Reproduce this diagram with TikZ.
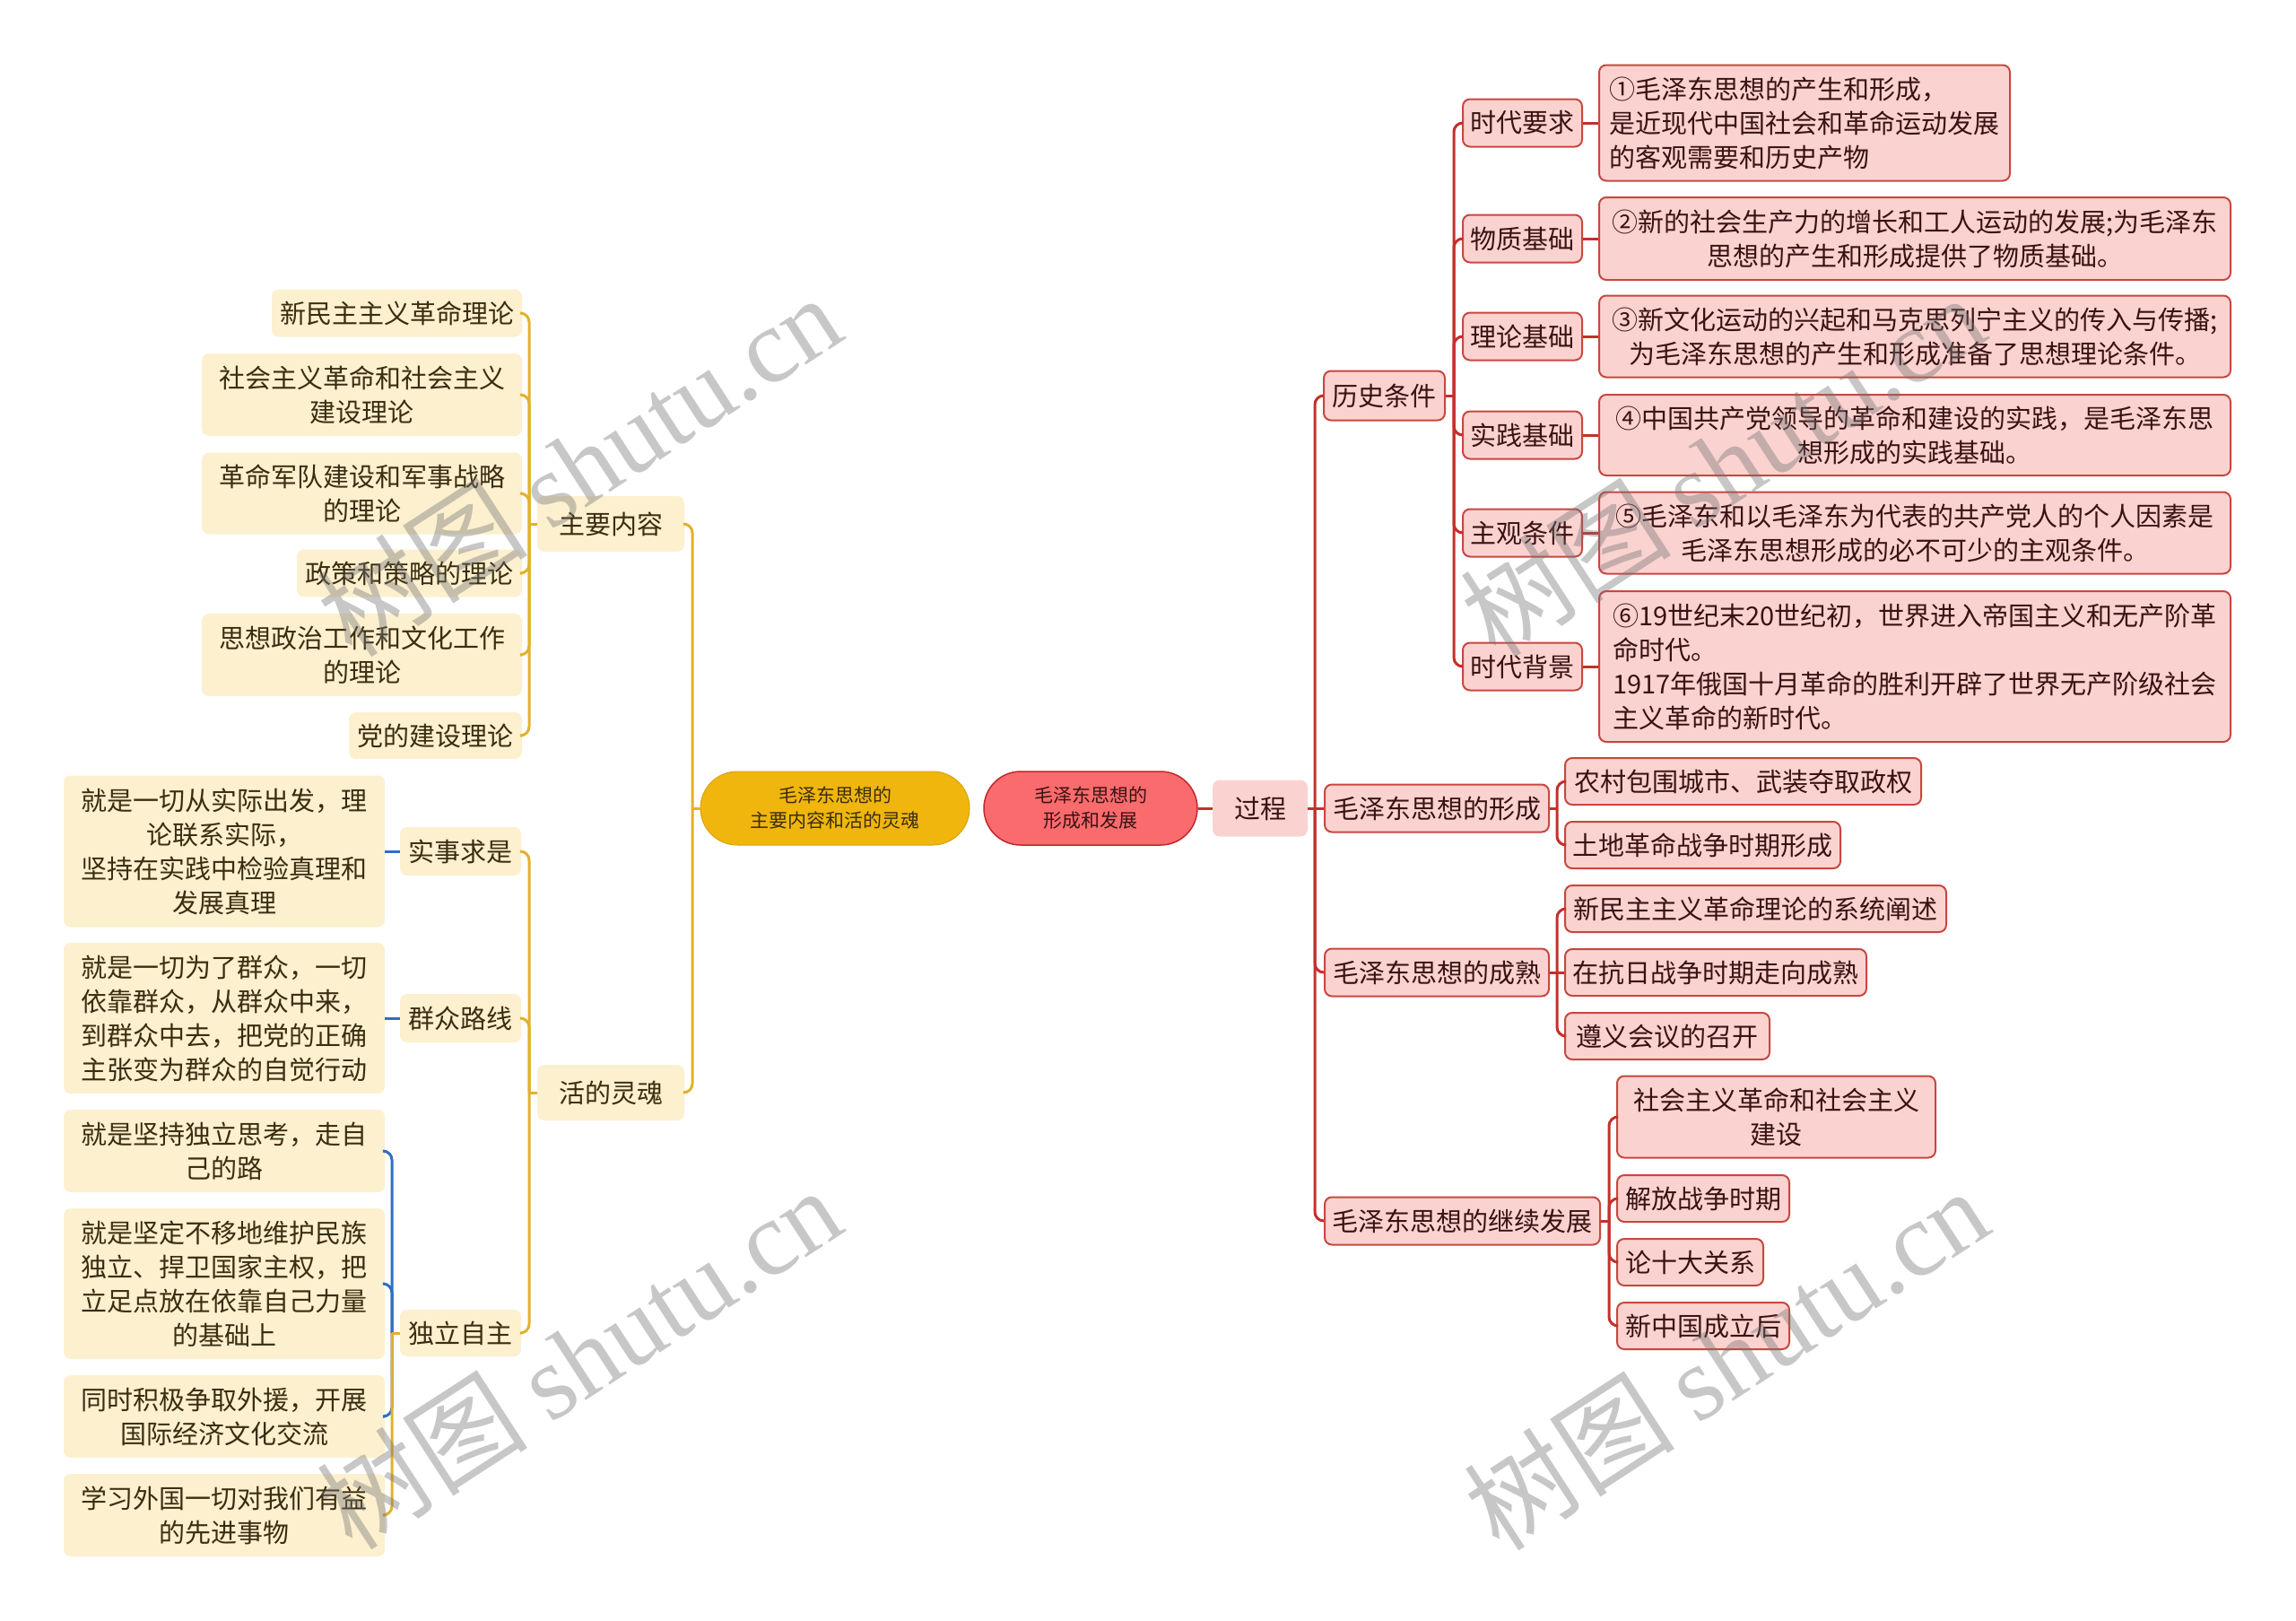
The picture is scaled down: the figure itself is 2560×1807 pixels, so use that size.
\documentclass[tikz,border=0pt]{standalone}
\usepackage{fontspec}
\setmainfont{Noto Sans CJK SC}
\newfontfamily\wmlatin{Liberation Serif}
\usetikzlibrary{calc}
\definecolor{rf}{HTML}{FAD3D1}
\definecolor{rb}{HTML}{C8473F}
\definecolor{rt}{HTML}{3A1212}
\definecolor{lr}{HTML}{C4302B}
\definecolor{rootr}{HTML}{F96B6D}
\definecolor{rootrb}{HTML}{C0282C}
\definecolor{yf}{HTML}{FCF0CF}
\definecolor{yt}{HTML}{3B2D0F}
\definecolor{ly}{HTML}{E2B12C}
\definecolor{rooty}{HTML}{F0B60E}
\definecolor{lb}{HTML}{2E6FC2}
\newcommand\fsz{\fontsize{29}{38}\selectfont}
\newcommand\fsroot{\fontsize{21}{28}\selectfont}
\newcommand\fswm{\fontsize{118}{130}\selectfont}
\begin{document}
\begin{tikzpicture}[x=1pt,y=-1pt,
  rline/.style={draw=lr, line width=3pt},
  yline/.style={draw=ly, line width=3pt},
  bline/.style={draw=lb, line width=3pt},
  rc/.style={rounded corners=10pt},
  rbox/.style={draw=rb, fill=rf, line width=2pt, rounded corners=8pt, text=rt, font=\fsz, inner xsep=4pt, inner ysep=2pt, align=center},
  ybox/.style={fill=yf, rounded corners=8pt, text=yt, font=\fsz, inner xsep=4pt, inner ysep=2pt, align=center},
  sz/.style 2 args={minimum width=#1, minimum height=#2},
  wm/.style={rotate=33, text=black!55, text opacity=0.4, font=\fswm}
]
\useasboundingbox (0,0) rectangle (2560,1807);
\fill[white] (0,0) rectangle (2560,1807);

% ---------- right map (red) ----------
\node[draw=rootrb, fill=rootr, line width=1.5pt, rounded corners=41pt, text=rt, font=\fsroot, align=center, sz={238}{82}] (rroot) at (1216,901) {毛泽东思想的\\形成和发展};
\node[fill=rf, rounded corners=8pt, text=rt, font=\fsz, sz={106}{63}] (guocheng) at (1405,901) {过程};

\node[rbox, sz={135}{55}] (lishi) at (1543.5,441) {历史条件};
\node[rbox, sz={133}{53}] (shidai) at (1697.5,137) {时代要求};
\node[rbox, sz={133}{53}] (wuzhi) at (1697.5,266) {物质基础};
\node[rbox, sz={133}{53}] (lilun) at (1697.5,375) {理论基础};
\node[rbox, sz={133}{53}] (shijian) at (1697.5,485) {实践基础};
\node[rbox, sz={133}{53}] (zhuguan) at (1697.5,594) {主观条件};
\node[rbox, sz={133}{53}] (beijing) at (1697.5,743) {时代背景};

\node[rbox, align=left, sz={458}{129}] (ra) at (2012,137) {①毛泽东思想的产生和形成，\\是近现代中国社会和革命运动发展\\的客观需要和历史产物};
\node[rbox, sz={704}{92}] (rb2) at (2135,266) {②新的社会生产力的增长和工人运动的发展;为毛泽东\\思想的产生和形成提供了物质基础。};
\node[rbox, sz={704}{91}] (rc3) at (2135,375) {③新文化运动的兴起和马克思列宁主义的传入与传播;\\为毛泽东思想的产生和形成准备了思想理论条件。};
\node[rbox, sz={704}{90}] (rd4) at (2135,485) {④中国共产党领导的革命和建设的实践，是毛泽东思\\想形成的实践基础。};
\node[rbox, sz={704}{91}] (re5) at (2135,594) {⑤毛泽东和以毛泽东为代表的共产党人的个人因素是\\毛泽东思想形成的必不可少的主观条件。};
\node[rbox, align=left, sz={704}{168}] (rf6) at (2135,743) {⑥19世纪末20世纪初，世界进入帝国主义和无产阶革\\命时代。\\1917年俄国十月革命的胜利开辟了世界无产阶级社会\\主义革命的新时代。};

\node[rbox, sz={250}{53}] (xingcheng) at (1602,901) {毛泽东思想的形成};
\node[rbox, sz={397}{52}] (x1) at (1943.5,871) {农村包围城市、武装夺取政权};
\node[rbox, sz={307}{52}] (x2) at (1898.5,942) {土地革命战争时期形成};

\node[rbox, sz={250}{53}] (chengshu) at (1602,1084) {毛泽东思想的成熟};
\node[rbox, sz={425}{52}] (c1) at (1957.5,1013) {新民主主义革命理论的系统阐述};
\node[rbox, sz={336}{52}] (c2) at (1913,1084) {在抗日战争时期走向成熟};
\node[rbox, sz={228}{52}] (c3) at (1859,1155) {遵义会议的召开};

\node[rbox, sz={307}{53}] (jixu) at (1630.5,1361) {毛泽东思想的继续发展};
\node[rbox, sz={355}{91}] (j1) at (1980.5,1245) {社会主义革命和社会主义\\建设};
\node[rbox, sz={192}{52}] (j2) at (1899,1336) {解放战争时期};
\node[rbox, sz={163}{52}] (j3) at (1884.5,1407) {论十大关系};
\node[rbox, sz={192}{52}] (j4) at (1899,1478) {新中国成立后};

% connectors right
\draw[rline] (rroot.east) -- (guocheng.west);
\coordinate (tG) at (1466,901);
\draw[rline] (guocheng.east) -- (tG);
\draw[rline, rc] (tG) |- (lishi.west);
\draw[rline] (tG) -- (xingcheng.west);
\draw[rline, rc] (tG) |- (chengshu.west);
\draw[rline, rc] (tG) |- (jixu.west);

\coordinate (tL) at (1621,441);
\draw[rline] (lishi.east) -- (tL);
\foreach \c in {shidai,wuzhi,lilun,shijian,zhuguan,beijing}
  \draw[rline, rc] (tL) |- (\c.west);
\draw[rline] (shidai.east) -- (ra.west);
\draw[rline] (wuzhi.east) -- (rb2.west);
\draw[rline] (lilun.east) -- (rc3.west);
\draw[rline] (shijian.east) -- (rd4.west);
\draw[rline] (zhuguan.east) -- (re5.west);
\draw[rline] (beijing.east) -- (rf6.west);

\coordinate (tX) at (1736,901);
\draw[rline] (xingcheng.east) -- (tX);
\draw[rline, rc] (tX) |- (x1.west);
\draw[rline, rc] (tX) |- (x2.west);

\coordinate (tC) at (1736,1084);
\draw[rline] (chengshu.east) -- (tC);
\draw[rline, rc] (tC) |- (c1.west);
\draw[rline] (tC) -- (c2.west);
\draw[rline, rc] (tC) |- (c3.west);

\coordinate (tJ) at (1794,1361);
\draw[rline] (jixu.east) -- (tJ);
\foreach \c in {j1,j2,j3,j4}
  \draw[rline, rc] (tJ) |- (\c.west);

% ---------- left map (yellow) ----------
\node[draw=rooty!90!black, fill=rooty, line width=1pt, rounded corners=41pt, text=yt, font=\fsroot, align=center, sz={300}{82}] (yroot) at (931,901) {毛泽东思想的\\主要内容和活的灵魂};

\node[ybox, sz={164}{62}] (zhuyao) at (681,584) {主要内容};
\node[ybox, sz={164}{62}] (huode) at (681,1218) {活的灵魂};

\node[ybox, sz={279}{53}] (m1) at (442.5,349) {新民主主义革命理论};
\node[ybox, sz={357}{92}] (m2) at (403.5,440) {社会主义革命和社会主义\\建设理论};
\node[ybox, sz={357}{91}] (m3) at (403.5,550) {革命军队建设和军事战略\\的理论};
\node[ybox, sz={251}{53}] (m4) at (456.5,639) {政策和策略的理论};
\node[ybox, sz={357}{92}] (m5) at (403.5,730) {思想政治工作和文化工作\\的理论};
\node[ybox, sz={193}{52}] (m6) at (485.5,820) {党的建设理论};

\node[ybox, sz={135}{54}] (s1) at (513.5,949) {实事求是};
\node[ybox, sz={135}{54}] (s2) at (513.5,1135) {群众路线};
\node[ybox, sz={135}{52}] (s3) at (513.5,1486) {独立自主};

\node[ybox, sz={358}{169}] (l1) at (250,949) {就是一切从实际出发，理\\论联系实际，\\坚持在实践中检验真理和\\发展真理};
\node[ybox, sz={358}{168}] (l2) at (250,1135) {就是一切为了群众，一切\\依靠群众，从群众中来，\\到群众中去，把党的正确\\主张变为群众的自觉行动};
\node[ybox, sz={358}{92}] (l3) at (250,1283) {就是坚持独立思考，走自\\己的路};
\node[ybox, sz={358}{168}] (l4) at (250,1431) {就是坚定不移地维护民族\\独立、捍卫国家主权，把\\立足点放在依靠自己力量\\的基础上};
\node[ybox, sz={358}{92}] (l5) at (250,1579) {同时积极争取外援，开展\\国际经济文化交流};
\node[ybox, sz={358}{92}] (l6) at (250,1689) {学习外国一切对我们有益\\的先进事物};

% connectors left
\coordinate (tY) at (772,901);
\draw[yline] (yroot.west) -- (tY);
\draw[yline, rc] (tY) |- (zhuyao.east);
\draw[yline, rc] (tY) |- (huode.east);

\coordinate (tZ) at (590,584);
\draw[yline] (zhuyao.west) -- (tZ);
\foreach \c in {m1,m2,m3,m4,m5,m6}
  \draw[yline, rc] (tZ) |- (\c.east);

\coordinate (tH) at (590,1218);
\draw[yline] (huode.west) -- (tH);
\foreach \c in {s1,s2,s3}
  \draw[yline, rc] (tH) |- (\c.east);

\draw[bline] (s1.west) -- (l1.east);
\draw[bline] (s2.west) -- (l2.east);
\coordinate (tD) at (437,1486);
\draw[bline, rc] (tD) |- (l3.east);
\draw[bline, rc] (tD) |- (l4.east);
\draw[bline, rc] (tD) |- (l5.east);
\draw[yline] (s3.west) -- (tD);
\draw[yline, rc] (tD) |- (l6.east);

% ---------- watermarks ----------
\node[wm] (wm1) at (645,518) {树图 {\wmlatin shutu.cn}};
\node[wm] (wm2) at (645,1513) {树图 {\wmlatin shutu.cn}};
\node[wm] (wm3) at (1920,518) {树图 {\wmlatin shutu.cn}};
\node[wm] (wm4) at (1924,1514) {树图 {\wmlatin shutu.cn}};
\end{tikzpicture}
\end{document}
